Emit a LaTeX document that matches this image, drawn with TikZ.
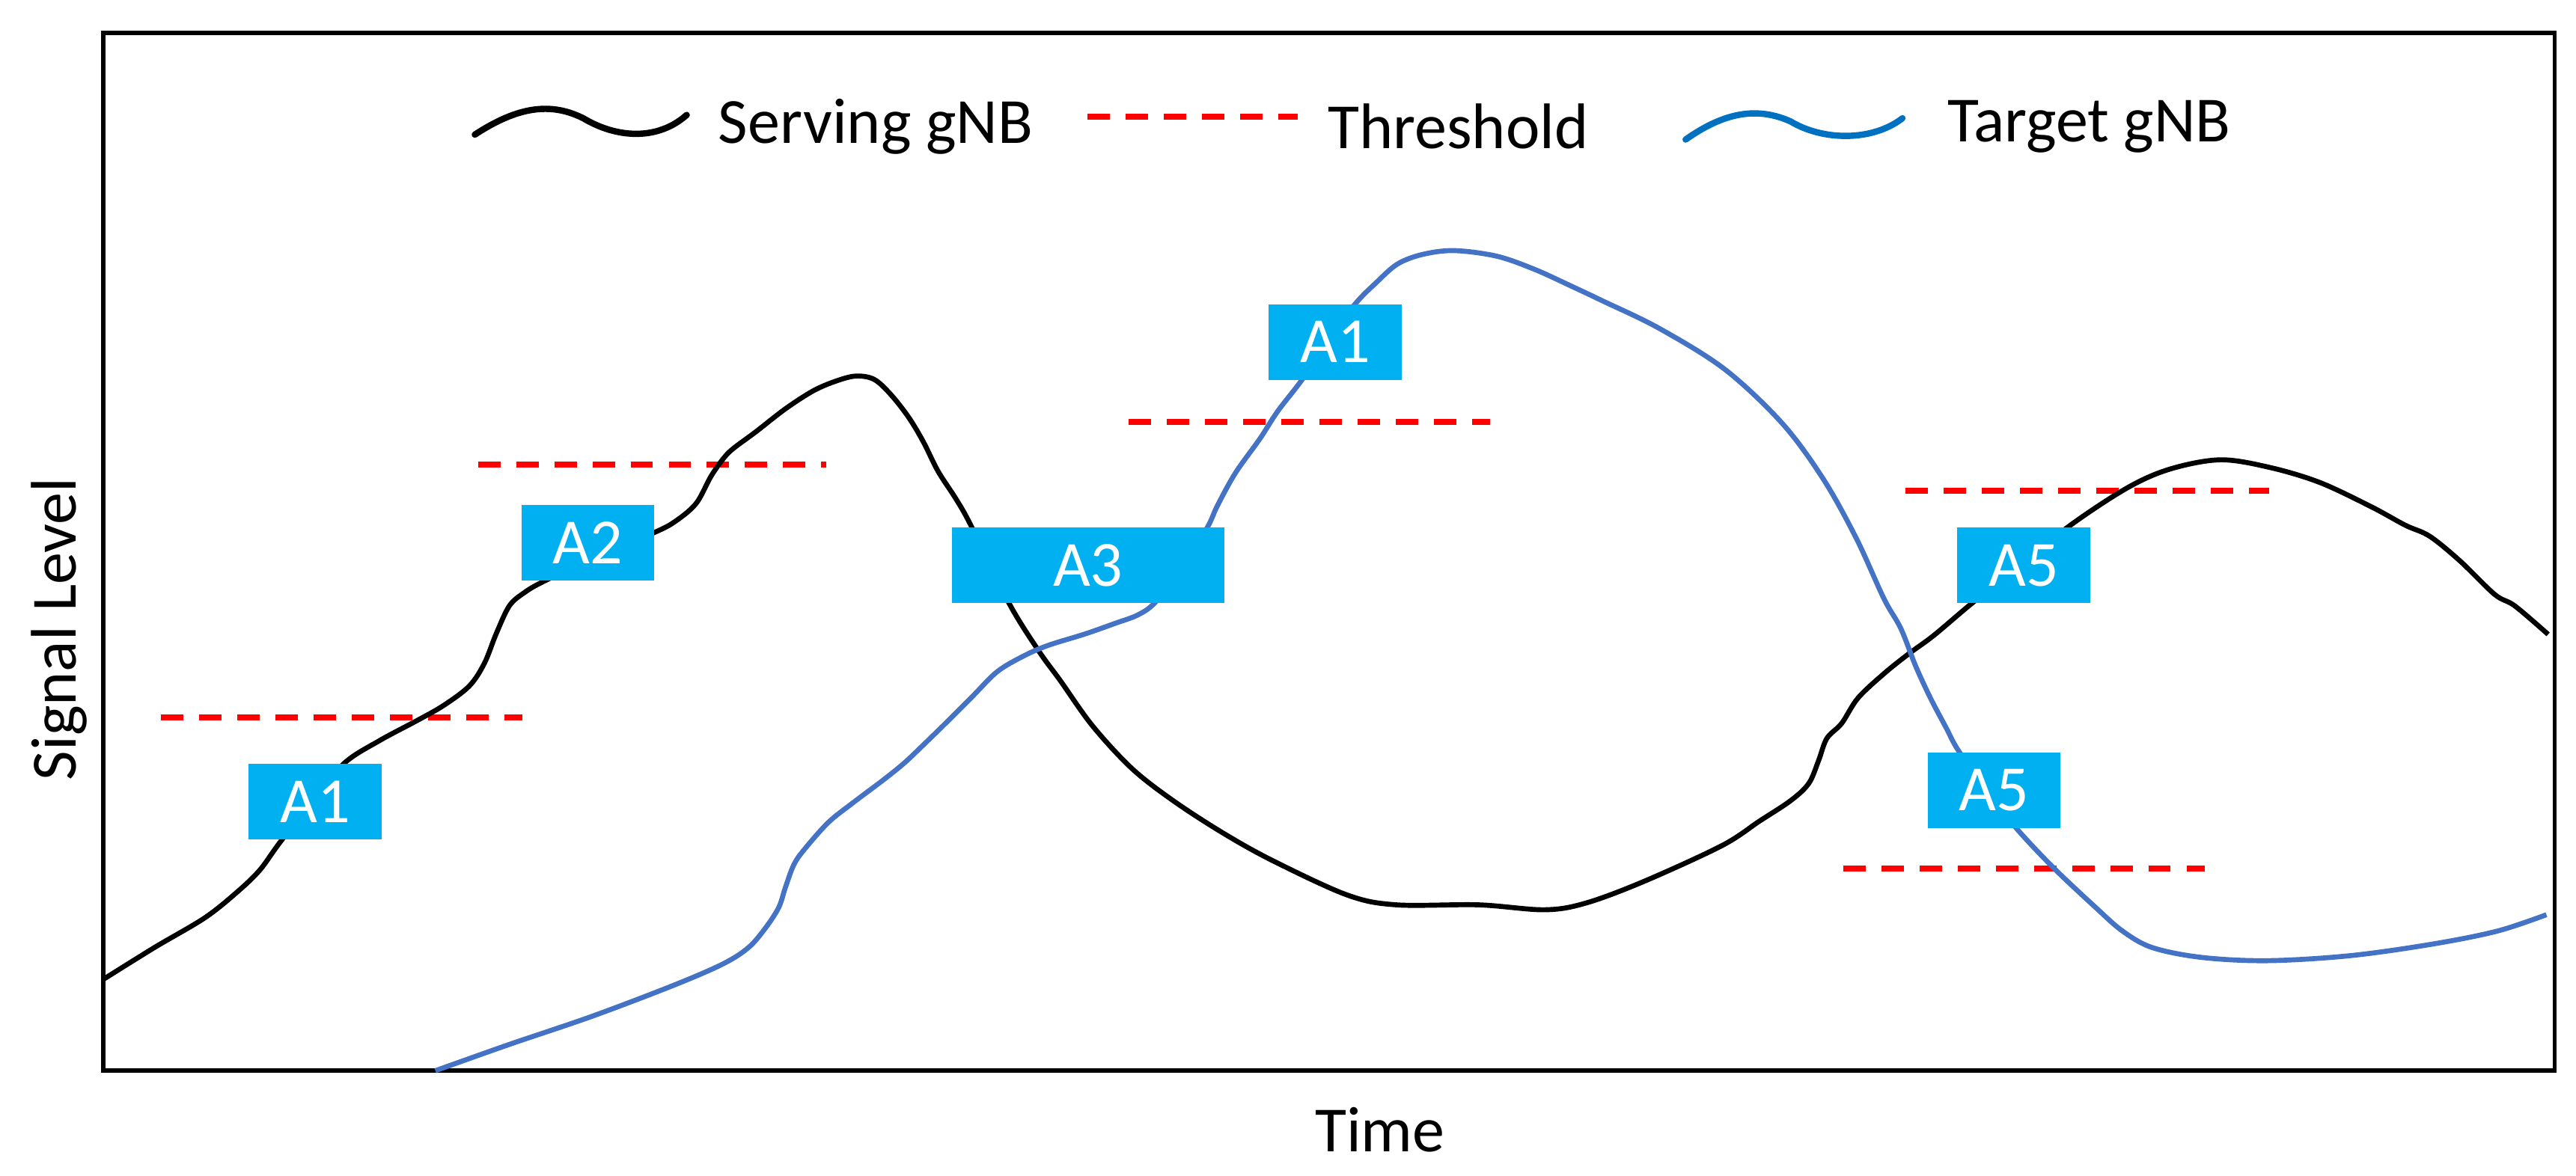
\documentclass[tikz,border=0pt]{standalone}
\usepackage{fontspec}
\setmainfont{Carlito}
\definecolor{boxblue}{HTML}{00B0F0}
\definecolor{tgtblue}{HTML}{4472C4}
\definecolor{legblue}{HTML}{0070C0}
\begin{document}
\begin{tikzpicture}[x=0.021952cm,y=-0.021952cm,
  evbox/.style={fill=boxblue,text=white,inner sep=0pt,minimum height=1.01cm,font=\fontsize{24.5}{28}\selectfont},
  evsmall/.style={evbox,minimum width=1.778cm},
  evwide/.style={evbox,minimum width=3.644cm},
  thr/.style={red,line width=2.3pt,dash pattern=on 8.5pt off 6pt},
  srv/.style={black,line width=1.9pt,line join=round},
  tgt/.style={tgtblue,line width=1.9pt,line join=round},
  lbl/.style={font=\fontsize{24.5}{28}\selectfont,inner sep=0pt}]
\useasboundingbox (0,0) rectangle (1568,716);
\fill[white] (0,0) rectangle (1568,716);
% frame
\draw[line width=1.6pt] (63,20) rectangle (1555,652);
% thresholds
\draw[thr] (98,437) -- (318,437);
\draw[thr] (291,283) -- (503,283);
\draw[thr] (687,257) -- (907,257);
\draw[thr] (1160,299) -- (1381,299);
\draw[thr] (1122,529) -- (1342,529);
% serving curve
\draw[srv] plot[smooth,tension=0.55] coordinates {(63.5,596) (94,577) (124.5,559) (144,543.5) (158,530) (170,513.5) (190,488) (209.6,464.7) (231,451) (254,438.7) (270,429.6) (285.6,417.8) (294.8,404) (302,386) (310,369) (319,361) (331,354) (365,338) (398,324.4) (411,317.5) (423.7,306.6) (432.8,290) (440.5,279) (446.5,273) (460,263) (478,249) (495,238) (509,232) (521,229) (532,231) (542,240) (553,254) (562,269) (571,287) (582,304) (591,320) (614,367) (632,396) (645.5,414.6) (665,442) (689,468) (714,487.5) (744,507) (774.5,524) (820,545) (850,551) (900,551) (940,554) (965,550) (1000,537) (1048,515) (1071,500) (1090,487.5) (1101,477) (1107,463) (1112,449.6) (1121,440.5) (1131,425) (1147,410) (1162,398) (1177,387) (1200,367.6) (1225,348) (1260,320) (1295,297) (1321,285.6) (1351.6,280) (1381.8,284.7) (1412,293.8) (1443,308.4) (1464,319.8) (1479,326.6) (1497.5,341.7) (1518.5,362) (1530.8,369) (1551,386.3)};
% target curve
\draw[tgt] plot[smooth,tension=0.55] coordinates {(265,652) (310,636) (360,619) (410,600) (440,587) (455.6,577) (466,565) (474,552.6) (478,540.6) (483,527) (489,518) (504,501) (519,489) (537.6,475) (550,465) (560,455.6) (576,440) (592,424) (607,409) (623,399.5) (638,393) (660.6,386) (679,379.5) (692.5,374.5) (703,367) (720,346) (735,321) (741,308) (752,288) (767,267) (777.6,250.6) (792.7,231) (808,208) (824.6,185.4) (838,171.8) (850.6,160.8) (865.6,155) (885,152.6) (911,156) (934,164) (957,174.5) (975,183) (1010,200) (1050,225) (1085,258) (1110,292) (1130,328) (1146.7,364.5) (1157,382.7) (1166,405.5) (1175,425) (1184.5,443) (1192,457) (1209,481) (1227,504) (1250,528.5) (1275.6,552.6) (1292,567) (1310,577) (1340,583) (1380,585) (1430,582) (1480,575) (1520,567) (1550,557)};
% event boxes
\node[evsmall,anchor=north west] (a1l) at (151,465) {A1};
\node[evsmall,anchor=north west] (a2) at (317,307) {A2};
\node[evwide,anchor=north west] (a3) at (579,321) {A3};
\node[evsmall,anchor=north west] (a1m) at (772,185) {A1};
\node[evsmall,anchor=north west] (a5u) at (1191,321) {A5};
\node[evsmall,anchor=north west] (a5l) at (1173,458) {A5};
% legend
\draw[black,line width=2.4pt,line cap=round] (289,82) .. controls (315,65) and (335,62) .. (355,72) .. controls (375,84) and (400,86) .. (418,70);
\node[lbl,anchor=west] (lserv) at (437,77) {Serving gNB};
\draw[thr] (662,71) -- (790,71);
\node[lbl,anchor=west] (lthr) at (808,77) {Threshold};
\draw[legblue,line width=2.4pt,line cap=round] (1026,85) .. controls (1050,68) and (1070,65) .. (1090,74) .. controls (1110,86) and (1140,86) .. (1158,72);
\node[lbl,anchor=west] (ltgt) at (1185,77) {Target gNB};
% axis labels
\node[lbl] (time) at (840,688) {Time};
\node[lbl,rotate=90] (sig) at (36,383) {Signal Level};
\end{tikzpicture}
\end{document}
